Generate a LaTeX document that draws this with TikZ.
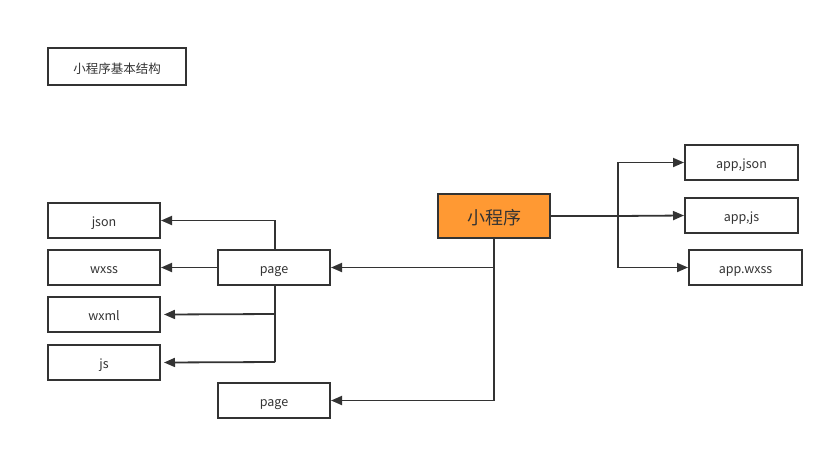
\documentclass[tikz,border=0pt]{standalone}
\usepackage{fontspec}
\setmainfont{Noto Sans CJK SC}
\usetikzlibrary{arrows.meta}
\definecolor{ln}{HTML}{333333}
\definecolor{org}{HTML}{FF9933}
\begin{document}
\begin{tikzpicture}[x=1pt,y=-1pt,
  box/.style={draw=ln,line width=2pt,fill=white,inner sep=0pt,font=\fontsize{12.5}{14}\selectfont,text=ln,text height=11pt,text depth=0pt},
  conn/.style={draw=ln,line width=1.8pt,-{Triangle[length=11pt,width=9pt]}},
  seg/.style={draw=ln,line width=1.8pt}]
\useasboundingbox (0,0) rectangle (834,450);
\node[box,minimum width=138pt,minimum height=37pt,text height=13pt,text depth=0pt] (title) at (117,66.5) {小程序基本结构};
\node[box,fill=org,minimum width=112pt,minimum height=44pt,font=\fontsize{18}{21}\selectfont,text height=17pt,text depth=0pt] (main) at (494,216) {小程序};
\node[box,minimum width=113pt,minimum height=35pt] (appjson) at (741.5,162.5) {app,json};
\node[box,minimum width=113pt,minimum height=35pt] (appjs) at (741.5,215.5) {app,js};
\node[box,minimum width=113pt,minimum height=35pt] (appwxss) at (745.5,267.5) {app.wxss};
\node[box,minimum width=112pt,minimum height=35pt] (json) at (104,220.5) {json};
\node[box,minimum width=112pt,minimum height=35pt] (wxss) at (104,267.5) {wxss};
\node[box,minimum width=112pt,minimum height=35pt] (wxml) at (104,314.5) {wxml};
\node[box,minimum width=112pt,minimum height=35pt] (js) at (104,362.5) {js};
\node[box,minimum width=112pt,minimum height=35pt] (page1) at (274,267.5) {page};
\node[box,minimum width=112pt,minimum height=35pt] (page2) at (274,400.5) {page};
\coordinate (br) at (618,216);
\coordinate (mb) at (494,268);
\coordinate (pt) at (275,220);
\coordinate (pb1) at (275,314);
\coordinate (pb2) at (275,362);
% main to app files
\draw[seg] (main.east) -- (br);
\draw[conn] (br) |- (appjson.west);
\draw[conn] (br) -- (appjs.west);
\draw[conn] (br) |- (appwxss.west);
% main to pages
\draw[conn] (main.south) |- (page1.east);
\draw[conn] (mb) |- (page2.east);
% page to files
\draw[conn] (page1.north -| pt) |- (json.east);
\draw[conn] (page1.west) -- (wxss.east);
\draw[seg] (page1.south -| pt) -- (pb2);
\draw[conn] (pb1) -- ([xshift=3pt]wxml.east);
\draw[conn] (pb2) -- ([xshift=3pt]js.east);
\end{tikzpicture}
\end{document}
